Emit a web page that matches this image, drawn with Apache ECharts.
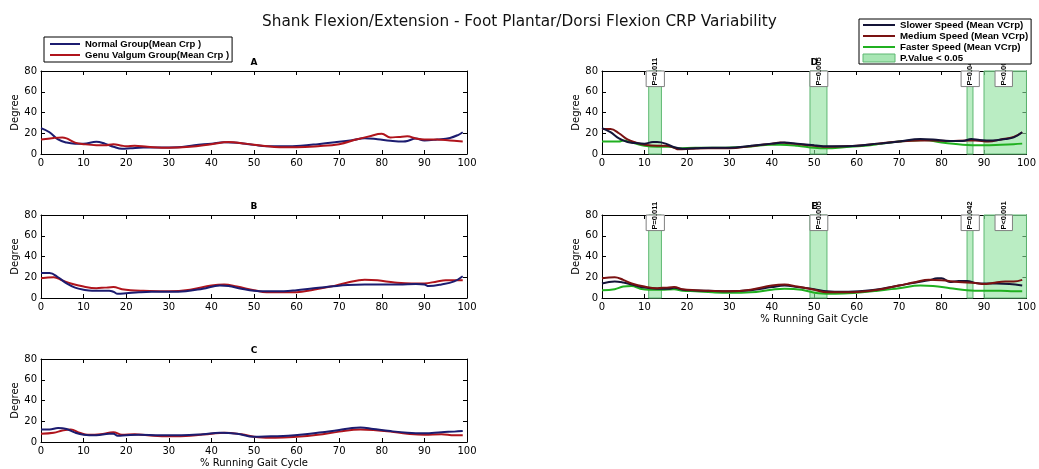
<!DOCTYPE html>
<html>
<head>
<meta charset="utf-8">
<script src="https://cdn.jsdelivr.net/npm/echarts@6/dist/echarts.min.js"></script>
<style>
  html, body { margin: 0; padding: 0; background: #fff; }
  #main { width: 1039px; height: 469px; }
</style>
</head>
<body>
<div id="main"></div>
<script>
// panel A/B/C : normal vs genu valgum, [x, y]
var normalA = [[0,25],[2,21],[4,14],[6,11],[8,10],[10,10],[13,11.8],[15,10],[17,7],[19,5],[21,5.5],[24,6.3],[28,6.3],[32,6.5],[36,8.5],[40,10],[43,11.3],[46,10.8],[50,8.8],[53,7.5],[57,7.5],[61,8],[65,9.5],[69,11.3],[73,13.3],[76,15.3],[79,14.3],[82,12.8],[85,12],[86,12.5],[88,15],[90,13],[93,14],[96,15.5],[98,18.5],[99,21]];
var valgumA = [[0,14],[3,15.5],[5,16],[6,15],[8,11],[10,9.5],[13,8.5],[15,8.5],[17,9.5],[19,8],[20,7.5],[22,8],[25,7],[30,6],[35,7],[40,9.5],[44,11.5],[48,10],[52,8],[56,6.5],[60,6.5],[65,7.5],[70,9.5],[74,14],[77,17],[80,19.5],[82,16],[84,16.5],[86,17],[88,15],[90,14],[93,14],[96,13],[99,12]];
var normalB = [[0,24],[2,24],[4,20],[6,14],[8,10],[10,8],[12,7],[14,7],[16,7],[17,6],[18,4],[20,4.5],[23,5.5],[26,6],[30,6],[34,6.5],[38,9],[42,12],[44,11.5],[47,9],[50,7],[53,6.5],[57,6.5],[60,7.5],[64,9.5],[68,11],[72,12.5],[76,13],[80,13],[84,13],[88,13.5],[90,13],[91,11.5],[94,13],[97,16],[99,21]];
var valgumB = [[0,19],[3,20],[5,17],[7,14],[10,11],[13,9.5],[15,10],[17,10.5],[19,8.5],[21,7.5],[24,7],[30,6.5],[35,8],[40,12],[43,13],[46,11],[50,7.5],[53,5.5],[57,5.5],[60,5.5],[64,8],[68,11],[72,15],[76,17.5],[79,17],[83,15],[87,14],[90,14],[93,16],[95,17],[99,17]];
var normalC = [[0,12],[2,12],[4,13.5],[6,12.5],[8,9],[10,7],[13,6.5],[16,8],[17,8],[18,6],[20,6.5],[23,7],[28,6.5],[33,6.5],[38,7.5],[42,9],[46,8],[50,5],[54,5.5],[58,6],[62,7.5],[66,9.5],[70,11.5],[73,13.5],[75,14],[78,12.5],[82,10.5],[86,9],[90,8.5],[94,9.5],[97,10],[99,10.5]];
var valgumC = [[0,8],[3,9],[5,11],[7,12],[9,9],[11,7],[14,7.5],[16,9],[17,9.5],[19,7],[22,7.5],[25,6.5],[30,5.5],[35,6],[40,8],[43,9],[47,7.5],[51,4.5],[55,4],[60,5],[65,7],[70,10],[75,12],[78,11.5],[82,10],[86,8],[90,7],[94,7.5],[97,6.5],[99,6.5]];

// panel D/E : three speeds
var slowerD = [[0,25],[2,21],[4,15],[6,11.5],[8,10.5],[10,10],[12,11.5],[13,11.5],[15,10],[17,6.5],[19,5],[22,5.5],[26,6],[30,6],[35,8],[40,10],[43,11],[46,10],[50,8.5],[53,7.5],[56,7.5],[60,8],[65,10],[70,12],[75,14.5],[78,14],[82,12.5],[85,12.5],[87,14.5],[89,13.5],[92,13],[95,14.5],[97,16],[99,21]];
var mediumD = [[0,24],[2,24],[4,20],[6,14],[8,11],[10,9],[13,8],[15,8],[17,6],[18,4.5],[21,5],[25,5.5],[30,5.5],[35,7.5],[40,10],[42,11],[45,10],[50,8],[53,7],[57,7.5],[60,8],[65,10],[70,12],[75,13],[78,13],[82,12.5],[86,13],[88,13],[91,12],[94,14],[97,16.5],[99,21]];
var fasterD = [[0,12],[4,12],[5,13],[7,11],[10,8],[13,7],[16,7],[18,5.5],[22,6],[28,6],[34,7],[40,9],[42,9],[46,8],[50,6],[53,5.5],[57,6.5],[62,8],[66,10],[70,12],[73,13],[76,13.5],[80,11],[85,9],[90,8.5],[94,9],[97,9.5],[99,10]];
var slowerE = [[0,14],[3,16],[5,15],[7,13],[10,10],[13,9],[16,9],[17,10],[19,8],[21,7.5],[25,7],[30,6.5],[35,7.5],[40,10.5],[43,12],[46,10.5],[50,8.5],[53,6.5],[57,6],[62,7],[66,9],[70,12],[74,15],[77,17],[79,19],[80,19],[82,15.5],[84,16.5],[86,16.5],[88,14.5],[90,14],[93,14],[96,13.5],[99,12]];
var mediumE = [[0,19],[3,20],[5,17.5],[7,14],[10,11],[13,9.5],[15,10],[17,10.5],[19,8.5],[22,7.5],[25,7],[30,6.5],[35,8],[40,12],[43,13],[46,11],[50,8],[53,5.5],[57,5.5],[61,6],[65,8],[70,12],[74,15.5],[77,17.5],[80,17],[84,15.5],[88,14.5],[90,13.5],[92,14.5],[95,16],[97,16],[99,17.5]];
var fasterE = [[0,7.5],[3,8.5],[5,11],[7,11.5],[9,9],[11,8],[14,8],[17,8.5],[19,7],[22,6.5],[26,5.5],[30,5],[35,5.5],[40,8],[43,9],[47,8],[51,4.5],[55,4],[60,5],[65,7],[70,9.5],[75,12],[78,11.5],[82,9.5],[86,7.5],[90,7],[94,7],[97,6.5],[99,6.5]];

// significant ranges (x from, x to) and p-value boxes
var sigRanges = [[11,14],[49,53],[86,87.4],[90,100]];
var pBoxes = [[10.4,14.7],[49,53.2],[84.6,88.9],[92.6,96.7]];
var pLabels = ['P=0.011','P=0.005','P=0.042','P<0.001'];

var panelNames = ['A','B','C','D','E'];
var font = 'DejaVu Sans';

var grids = [
  {left:41, top:71, width:426, height:83},
  {left:41, top:215, width:426, height:83},
  {left:41, top:359, width:426, height:84},
  {left:602, top:71, width:426, height:83},
  {left:602, top:215, width:426, height:83}
];

var xAxes = [], yAxes = [];
for (var i = 0; i < grids.length; i++) {
  var xname = (i == 2 || i == 4) ? '% Running Gait Cycle' : '';
  xAxes.push({
    gridIndex:i, type:'value', min:0, max:100, interval:10, position:'bottom',
    axisLine:{onZero:false, lineStyle:{color:'#000', width:1}},
    axisTick:{inside:true, length:4, lineStyle:{color:'#000'}},
    axisLabel:{color:'#000', fontSize:10, fontFamily:font, margin:4},
    splitLine:{show:false},
    name:xname, nameLocation:'middle', nameGap:16,
    nameTextStyle:{color:'#000', fontSize:10, fontFamily:font}
  });
  xAxes.push({
    gridIndex:i, type:'value', min:0, max:100, interval:10, position:'top',
    axisLine:{onZero:false, lineStyle:{color:'#000', width:1}},
    axisTick:{inside:true, length:4, lineStyle:{color:'#000'}},
    axisLabel:{show:false}, splitLine:{show:false},
    name:panelNames[i], nameLocation:'middle', nameGap:4,
    nameTextStyle:{color:'#000', fontSize:9, fontWeight:'bold', fontFamily:font}
  });
  yAxes.push({
    gridIndex:i, type:'value', min:0, max:80, interval:20, position:'left',
    axisLine:{show:true, onZero:false, lineStyle:{color:'#000', width:1}},
    axisTick:{show:true, inside:true, length:4, lineStyle:{color:'#000'}},
    axisLabel:{color:'#000', fontSize:10, fontFamily:font, margin:4},
    splitLine:{show:false},
    name:'Degree', nameLocation:'middle', nameGap:21,
    nameTextStyle:{color:'#000', fontSize:10, fontFamily:font}
  });
  yAxes.push({
    gridIndex:i, type:'value', min:0, max:80, interval:20, position:'right',
    axisLine:{show:true, onZero:false, lineStyle:{color:'#000', width:1}},
    axisTick:{show:true, inside:true, length:4, lineStyle:{color:'#000'}},
    axisLabel:{show:false}, splitLine:{show:false}
  });
}

function line(name, data, color, g, z) {
  return {
    name:name, type:'line', data:data, xAxisIndex:g*2, yAxisIndex:g*2,
    symbol:'none', smooth:0.4, z:z || 3,
    lineStyle:{color:color, width:2}, itemStyle:{color:color}
  };
}

var greenFill = 'rgba(140,225,155,0.6)';
var greenEdge = '#5fb872';

function sigSeries(g) {
  return {
    name:'P.Value < 0.05', type:'custom', xAxisIndex:g*2, yAxisIndex:g*2, z:1,
    itemStyle:{color:greenFill, borderColor:greenEdge},
    data:sigRanges,
    renderItem:function(params, api) {
      var a = api.coord([api.value(0), 80]);
      var b = api.coord([api.value(1), 0]);
      return {type:'rect', shape:{x:a[0], y:a[1], width:b[0]-a[0], height:b[1]-a[1]},
        style:{fill:greenFill, stroke:greenEdge, lineWidth:1}};
    }
  };
}

function boxSeries(g) {
  return {
    type:'custom', xAxisIndex:g*2, yAxisIndex:g*2, z:2, silent:true,
    data:pBoxes,
    renderItem:function(params, api) {
      var a = api.coord([api.value(0), 80]);
      var b = api.coord([api.value(1), 65]);
      var cx = (a[0] + b[0]) / 2;
      return {type:'group', children:[
        {type:'rect', shape:{x:a[0], y:a[1], width:b[0]-a[0], height:b[1]-a[1]},
          style:{fill:'#fff', stroke:'#808080', lineWidth:1}},
        {type:'text', x:cx, y:b[1]-1, rotation:Math.PI/2,
          style:{text:pLabels[params.dataIndex], fontSize:7.5, fontWeight:'bold',
            fontFamily:'Liberation Sans', fill:'#000', align:'left', verticalAlign:'middle'}}
      ]};
    }
  };
}

var cNormal = '#1c1c70', cValgum = '#b0141c';
var cSlow = '#141438', cMed = '#7a1212', cFast = '#20b020';

var series = [
  line('Normal Group(Mean Crp )', normalA, cNormal, 0),
  line('Genu Valgum Group(Mean Crp )', valgumA, cValgum, 0),
  line('Normal Group(Mean Crp )', normalB, cNormal, 1, 4),
  line('Genu Valgum Group(Mean Crp )', valgumB, cValgum, 1),
  line('Normal Group(Mean Crp )', normalC, cNormal, 2, 4),
  line('Genu Valgum Group(Mean Crp )', valgumC, cValgum, 2),
  sigSeries(3), boxSeries(3),
  line('Faster Speed (Mean VCrp)', fasterD, cFast, 3),
  line('Medium Speed (Mean VCrp)', mediumD, cMed, 3),
  line('Slower Speed (Mean VCrp)', slowerD, cSlow, 3),
  sigSeries(4), boxSeries(4),
  line('Faster Speed (Mean VCrp)', fasterE, cFast, 4),
  line('Slower Speed (Mean VCrp)', slowerE, cSlow, 4),
  line('Medium Speed (Mean VCrp)', mediumE, cMed, 4)
];

var chart = echarts.init(document.getElementById('main'), null, {renderer:'canvas'});
chart.setOption({
  animation:false,
  backgroundColor:'#fff',
  title:{
    text:'Shank Flexion/Extension - Foot Plantar/Dorsi Flexion CRP Variability',
    left:'center', top:10,
    textStyle:{color:'#111', fontSize:15.3, fontWeight:'normal', fontFamily:'DejaVu Sans'}
  },
  legend:[
    {
      data:['Normal Group(Mean Crp )','Genu Valgum Group(Mean Crp )'],
      orient:'vertical', left:44, top:37, z:10,
      itemWidth:30, itemHeight:8, itemGap:1, padding:[2,3,2,5],
      itemStyle:{opacity:0},
      backgroundColor:'#fff', borderColor:'#000', borderWidth:1, borderRadius:0,
      textStyle:{color:'#000', fontSize:9.5, fontWeight:'bold', fontFamily:'Liberation Sans', lineHeight:9},
      selectedMode:false
    },
    {
      data:[
        'Slower Speed (Mean VCrp)','Medium Speed (Mean VCrp)','Faster Speed (Mean VCrp)',
        {name:'P.Value < 0.05', icon:'rect', itemStyle:{color:'#a8e6b4', borderColor:greenEdge, borderWidth:1, opacity:1}}
      ],
      orient:'vertical', left:859, top:19, z:10,
      itemWidth:32, itemHeight:8, itemGap:1, padding:[1,3,1,3],
      itemStyle:{opacity:0},
      backgroundColor:'#fff', borderColor:'#000', borderWidth:1, borderRadius:0,
      textStyle:{color:'#000', fontSize:9.7, fontWeight:'bold', fontFamily:'Liberation Sans', lineHeight:9},
      selectedMode:false
    }
  ],
  grid:grids,
  xAxis:xAxes,
  yAxis:yAxes,
  series:series
});
</script>
</body>
</html>
